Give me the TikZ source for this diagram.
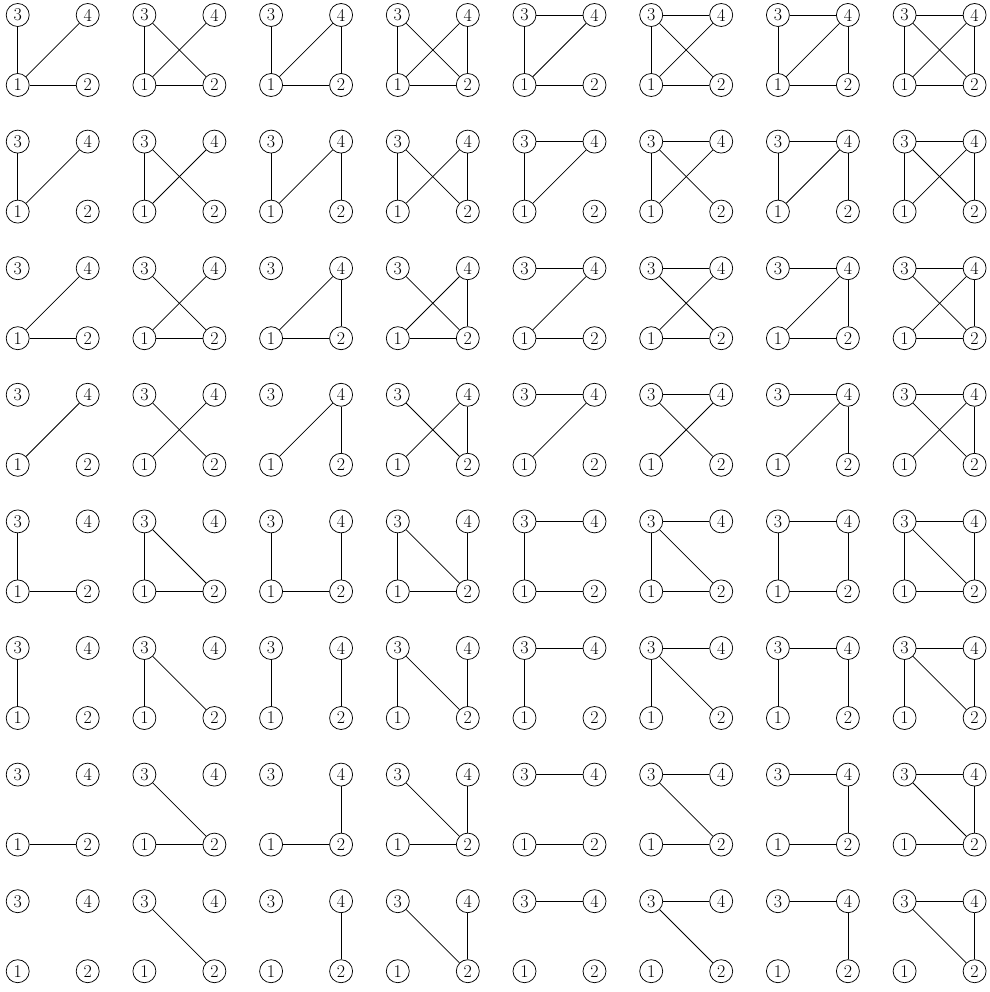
\documentclass[tikz,border=0pt]{standalone}
\begin{document}
\begin{tikzpicture}[x=1pt,y=-1pt,
  vtx/.style={circle,draw,line width=0.75pt,minimum size=23pt,inner sep=0pt,font=\fontsize{18}{18}\selectfont},
  edge/.style={line width=0.75pt}]
\useasboundingbox (0,0) rectangle (989,992);
\foreach \c in {0,...,7}{
 \foreach \r in {0,...,7}{
  \pgfmathsetmacro\xa{17.7+126.7*\c}
  \pgfmathsetmacro\ya{85+126.6*\r}
  \pgfmathsetmacro\xb{\xa+70}
  \pgfmathsetmacro\yb{\ya-70}
  \node[vtx] (n-\c-\r-1) at (\xa,\ya) {1};
  \node[vtx] (n-\c-\r-2) at (\xb,\ya) {2};
  \node[vtx] (n-\c-\r-3) at (\xa,\yb) {3};
  \node[vtx] (n-\c-\r-4) at (\xb,\yb) {4};
  \pgfmathtruncatemacro\ca{mod(\c,2)}
  \pgfmathtruncatemacro\cb{mod(floor(\c/2),2)}
  \pgfmathtruncatemacro\cc{floor(\c/4)}
  \pgfmathtruncatemacro\ra{mod(\r,2)}
  \pgfmathtruncatemacro\rb{mod(floor(\r/2),2)}
  \pgfmathtruncatemacro\rc{floor(\r/4)}
  \ifnum\ca=1 \draw[edge] (n-\c-\r-2) -- (n-\c-\r-3); \fi
  \ifnum\cb=1 \draw[edge] (n-\c-\r-2) -- (n-\c-\r-4); \fi
  \ifnum\cc=1 \draw[edge] (n-\c-\r-3) -- (n-\c-\r-4); \fi
  \ifnum\ra=0 \draw[edge] (n-\c-\r-1) -- (n-\c-\r-2); \fi
  \ifnum\rb=0 \draw[edge] (n-\c-\r-1) -- (n-\c-\r-3); \fi
  \ifnum\rc=0 \draw[edge] (n-\c-\r-1) -- (n-\c-\r-4); \fi
 }
}
\end{tikzpicture}
\end{document}
